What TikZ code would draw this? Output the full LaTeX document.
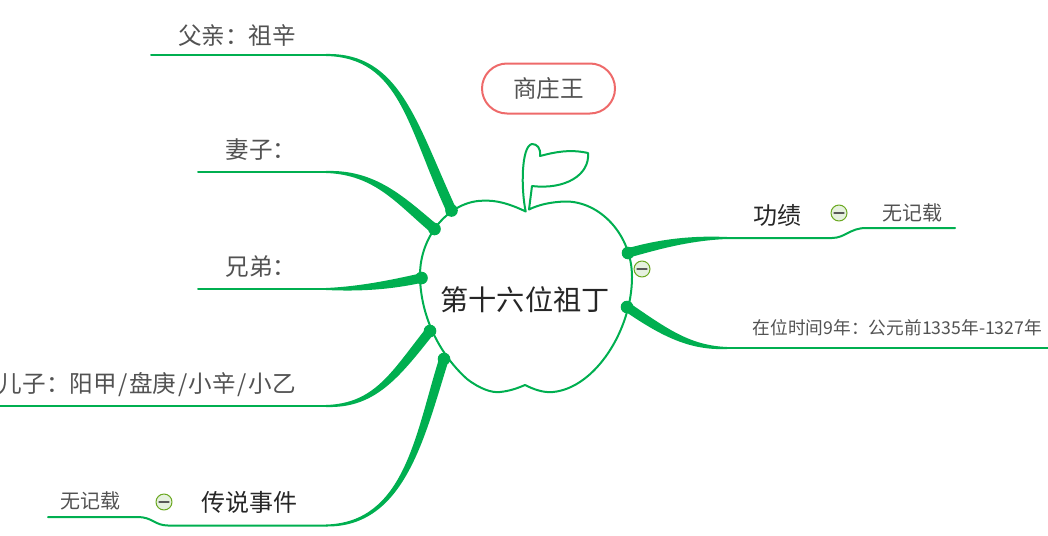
\documentclass[tikz,border=0pt]{standalone}
\usepackage{fontspec}
\setmainfont{Noto Sans CJK SC}
\usetikzlibrary{calc}
\definecolor{branchgreen}{HTML}{00AF50}
\definecolor{tagred}{HTML}{EE6A6A}
\definecolor{iconring}{HTML}{6AA820}
\definecolor{iconfill}{HTML}{E6F1DF}
\tikzset{
    branch/.style={fill=branchgreen},
    stem/.style={draw=branchgreen,line width=2pt,line cap=round},
    rootlabel/.style={font=\fontsize{28.2}{30}\selectfont,text=black!85,inner sep=0pt},
    mainlabel/.style={font=\fontsize{24}{26}\selectfont,text=black!85,inner sep=0pt},
    sidelabel/.style={font=\fontsize{23.6}{26}\selectfont,text=black!68,inner sep=0pt},
    leaflabel/.style={font=\fontsize{20}{22}\selectfont,text=black!68,inner sep=0pt},
    datelabel/.style={font=\fontsize{17.7}{20}\selectfont,text=black!68,inner sep=0pt},
    minusicon/.style={circle,draw=iconring,fill=iconfill,line width=1pt,minimum size=16pt,inner sep=0pt,
        path picture={\draw[black!65,line width=1.2pt] ([xshift=-5pt]path picture bounding box.center) -- ([xshift=5pt]path picture bounding box.center);}},
}
\newcommand{\taper}[5]{%
    \fill[branch] ($(#1)+(0,-1)$) .. controls ($#2+(0,-2.6)$) and ($#3+#5$) .. ($(#4)+#5$) -- ($(#4)-#5$)
        .. controls ($#3-#5$) and ($#2+(0,2.6)$) .. ($(#1)+(0,1)$) -- cycle;
    \fill[branch] (#4) circle (6.3);
}
\newcommand{\nameslash}{\hspace{1.6pt}/\hspace{1.6pt}}
\begin{document}
\begin{tikzpicture}[line cap=round,line join=round,x=1pt,y=-1pt]
    \useasboundingbox (0,0) rectangle (1048,535);

    % apple
    \draw[draw=branchgreen,line width=2pt,fill=white] (525.7,211.5)
        .. controls (510,204) and (497,200) .. (483,200.7)
        .. controls (450,201) and (420,235) .. (420,275)
        .. controls (420,310) and (435,350) .. (467,379)
        .. controls (480,389) and (492,393) .. (500,392)
        .. controls (510,391) and (518,388) .. (525,385)
        .. controls (533,389) and (543,393) .. (553,392)
        .. controls (595,388) and (632,330) .. (632,277)
        .. controls (632,235) and (600,201) .. (565,201.5)
        .. controls (550,202) and (538,205) .. (529,209.5)
        -- (532,186)
        .. controls (565,190) and (590,175) .. (588,153)
        .. controls (570,149) and (555,152) .. (540,156)
        .. controls (541,148) and (537,144) .. (532,144)
        .. controls (521,146) and (521,190) .. (525.7,211.5) -- cycle;

    \node[rootlabel] (root) at (525,299.5) {第十六位祖丁};
    \node[sidelabel,draw=tagred,line width=2pt,rounded corners=25pt,minimum width=133pt,minimum height=50pt] (king) at (548.5,88.5) {商庄王};

    \coordinate (fatherroot) at (451.5,210.5);
    \coordinate (wiferoot) at (434.5,229);
    \coordinate (brotherroot) at (421.5,278);
    \coordinate (sonroot) at (430,331);
    \coordinate (legendroot) at (444,359);
    \coordinate (meritroot) at (628,253);
    \coordinate (reignroot) at (627,307);

    \coordinate (fatherbend) at (326,55);
    \coordinate (wifebend) at (326,172);
    \coordinate (brotherbend) at (326,289);
    \coordinate (sonbend) at (326,406);
    \coordinate (legendbend) at (326,525.5);
    \coordinate (meritbend) at (727,238);
    \coordinate (reignbend) at (727,348);

    \taper{fatherbend}{(400,55)}{(412,125)}{fatherroot}{(4.6,-2)}
    \taper{wifebend}{(375,172)}{(400,200)}{wiferoot}{(3.2,-3.8)}
    \taper{brotherbend}{(360,289)}{(390,285)}{brotherroot}{(-1,-4.6)}
    \taper{sonbend}{(375,406)}{(395,375)}{sonroot}{(-3.7,-3)}
    \taper{legendbend}{(405,525)}{(420,435)}{legendroot}{(-4.6,-1.4)}
    \taper{meritbend}{(690,238)}{(660,244)}{meritroot}{(-1,-4.6)}
    \taper{reignbend}{(690,348)}{(665,333)}{reignroot}{(2.8,-3.8)}

    % side lines
    \coordinate (fatherend) at (151,55);
    \coordinate (wifeend) at (198,172);
    \coordinate (brotherend) at (198,289);
    \coordinate (sonend) at (0,406);
    \coordinate (legendend) at (48,517);
    \coordinate (meritend) at (955,228);
    \coordinate (reignend) at (1048,348);

    \draw[stem] (fatherbend) -- (fatherend);
    \draw[stem] (wifebend) -- (wifeend);
    \draw[stem] (brotherbend) -- (brotherend);
    \draw[stem] (sonbend) -- (sonend);
    \draw[stem] (reignbend) -- (reignend);
    \draw[stem] (legendbend) -- (168,525.5) .. controls (155,525.5) and (152,517) .. (138,517) -- (legendend);
    \draw[stem] (meritbend) -- (832,238) .. controls (845,238) and (850,228) .. (866,228) -- (meritend);

    \node[sidelabel] (father) at (237,35) {父亲：祖辛};
    \node[sidelabel] (wife) at (261,150) {妻子：};
    \node[sidelabel] (brother) at (261,267) {兄弟：};
    \node[sidelabel,anchor=east] (son) at (296,385) {儿子：阳甲\nameslash 盘庚\nameslash 小辛\nameslash 小乙};
    \node[mainlabel] (merit) at (777,215) {功绩};
    \node[leaflabel] (meritleaf) at (912.5,213) {无记载};
    \node[datelabel] (reign) at (897.5,328) {在位时间9年：公元前1335年-1327年};
    \node[mainlabel] (legend) at (249,502) {传说事件};
    \node[leaflabel] (legendleaf) at (90,501) {无记载};

    \node[minusicon] (meritminus) at (839,213) {};
    \node[minusicon] (rootminus) at (642,269) {};
    \node[minusicon] (legendminus) at (164,502) {};
\end{tikzpicture}
\end{document}
